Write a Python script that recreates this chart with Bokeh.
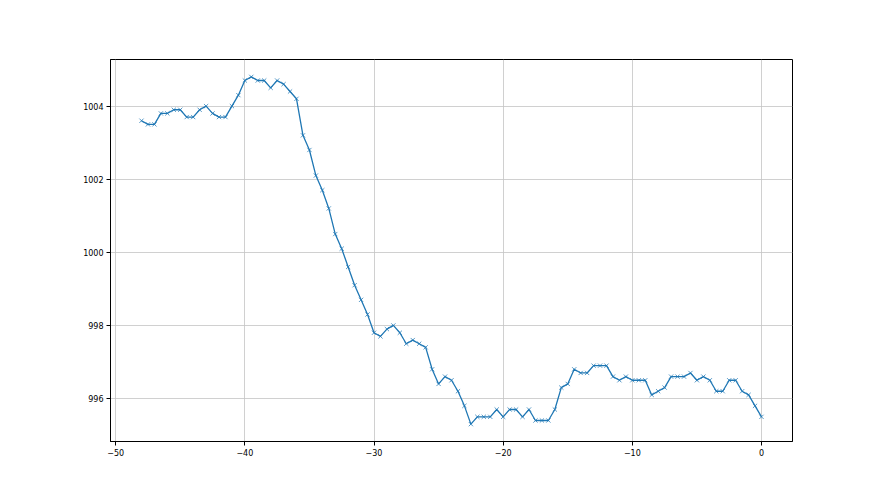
from bokeh.plotting import figure
from bokeh.models import Range1d, FixedTicker
from bokeh.embed import file_html
from bokeh.resources import INLINE

hours = [-48.0, -47.5, -47.0, -46.5, -46.0, -45.5, -45.0, -44.5, -44.0, -43.5,
         -43.0, -42.5, -42.0, -41.5, -41.0, -40.5, -40.0, -39.5, -39.0, -38.5,
         -38.0, -37.5, -37.0, -36.5, -36.0, -35.5, -35.0, -34.5, -34.0, -33.5,
         -33.0, -32.5, -32.0, -31.5, -31.0, -30.5, -30.0, -29.5, -29.0, -28.5,
         -28.0, -27.5, -27.0, -26.5, -26.0, -25.5, -25.0, -24.5, -24.0, -23.5,
         -23.0, -22.5, -22.0, -21.5, -21.0, -20.5, -20.0, -19.5, -19.0, -18.5,
         -18.0, -17.5, -17.0, -16.5, -16.0, -15.5, -15.0, -14.5, -14.0, -13.5,
         -13.0, -12.5, -12.0, -11.5, -11.0, -10.5, -10.0, -9.5, -9.0, -8.5,
         -8.0, -7.5, -7.0, -6.5, -6.0, -5.5, -5.0, -4.5, -4.0, -3.5,
         -3.0, -2.5, -2.0, -1.5, -1.0, -0.5, 0.0]

pressure = [1003.6, 1003.5, 1003.5, 1003.8, 1003.8, 1003.9, 1003.9, 1003.7, 1003.7, 1003.9,
            1004.0, 1003.8, 1003.7, 1003.7, 1004.0, 1004.3, 1004.7, 1004.8, 1004.7, 1004.7,
            1004.5, 1004.7, 1004.6, 1004.4, 1004.2, 1003.2, 1002.8, 1002.1, 1001.7, 1001.2,
            1000.5, 1000.1, 999.6, 999.1, 998.7, 998.3, 997.8, 997.7, 997.9, 998.0,
            997.8, 997.5, 997.6, 997.5, 997.4, 996.8, 996.4, 996.6, 996.5, 996.2,
            995.8, 995.3, 995.5, 995.5, 995.5, 995.7, 995.5, 995.7, 995.7, 995.5,
            995.7, 995.4, 995.4, 995.4, 995.7, 996.3, 996.4, 996.8, 996.7, 996.7,
            996.9, 996.9, 996.9, 996.6, 996.5, 996.6, 996.5, 996.5, 996.5, 996.1,
            996.2, 996.3, 996.6, 996.6, 996.6, 996.7, 996.5, 996.6, 996.5, 996.2,
            996.2, 996.5, 996.5, 996.2, 996.1, 995.8, 995.5]

x_ticks = [-50, -40, -30, -20, -10, 0]
x_tick_labels = {-50: "\u221250", -40: "\u221240", -30: "\u221230",
                 -20: "\u221220", -10: "\u221210", 0: "0"}
y_ticks = [996, 998, 1000, 1002, 1004]

xmin, xmax = min(hours), max(hours)
ymin, ymax = min(pressure), max(pressure)
xpad = (xmax - xmin) * 0.05
ypad = (ymax - ymin) * 0.05

p = figure(frame_width=682, frame_height=382, min_border_left=110, min_border_top=59,
           min_border_right=78, min_border_bottom=50,
           output_backend="svg", toolbar_location=None,
           x_range=Range1d(xmin - xpad, xmax + xpad),
           y_range=Range1d(ymin - ypad, ymax + ypad))

p.outline_line_color = "black"
p.outline_line_width = 1
p.background_fill_color = "white"
p.border_fill_color = "white"

for ax in (p.xaxis, p.yaxis):
    ax.axis_line_color = "black"
    ax.axis_line_width = 1
    ax.major_tick_in = 0
    ax.major_tick_out = 4
    ax.major_tick_line_color = "black"
    ax.minor_tick_line_color = None
    ax.major_label_text_font = "DejaVu Sans"
    ax.major_label_text_font_size = "8px"
    ax.major_label_text_color = "black"

p.xaxis.ticker = FixedTicker(ticks=x_ticks)
p.xaxis.major_label_overrides = x_tick_labels
p.yaxis.ticker = FixedTicker(ticks=y_ticks)
p.xaxis.major_label_standoff = 3
p.yaxis.major_label_standoff = 3

p.grid.grid_line_color = "#c4c4c4"
p.grid.grid_line_width = 0.8
p.xgrid.ticker = FixedTicker(ticks=x_ticks)
p.ygrid.ticker = FixedTicker(ticks=y_ticks)

p.line(hours, pressure, line_color="#1f77b4", line_width=1.3)
p.scatter(hours, pressure, marker="x", size=6, line_color="#1f77b4",
          line_alpha=0.75, line_width=1)

open("out.html", "w").write(file_html(p, INLINE))
